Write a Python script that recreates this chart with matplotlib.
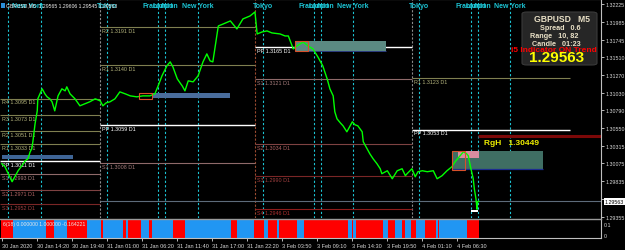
import matplotlib
matplotlib.use('Agg')
import matplotlib.pyplot as plt
import matplotlib.transforms as mtransforms
from matplotlib.patches import Rectangle, FancyBboxPatch
import numpy as np

plt.rcParams['font.family'] = ['Liberation Sans', 'DejaVu Sans']

W, H = 625, 251

# ---------------- data ----------------
price_bars = [0, 6, 12, 19, 24, 30, 37, 43, 48, 52, 55, 57, 61, 65, 66, 74, 79, 83, 88, 92, 97, 103, 110, 116, 119,
              125, 134, 143, 152, 161, 171, 180, 185, 191, 198, 207, 216, 226, 235, 247, 258, 271, 280, 286, 293,
              302, 308, 313, 321, 326, 330, 335, 341, 350, 359, 368, 375, 381, 386, 396, 405, 418, 430, 441, 454, 463,
              467, 476, 485, 494, 509, 518, 524, 533, 540, 551, 560, 569, 578, 587, 595, 600, 606, 609, 613, 619,
              624, 631, 641, 646, 651, 659, 661, 668, 673, 679, 686, 692, 695, 705, 714, 723, 732, 738, 741, 750,
              756, 761, 769, 778, 789, 796, 805, 814, 823, 829, 838, 844, 850, 853, 857, 862, 864, 867, 869, 870, 872]
price_vals = [1.30070, 1.30029, 1.29935, 1.29827, 1.29894, 1.29975, 1.30043, 1.30110, 1.30137, 1.30231, 1.30272,
              1.30366, 1.30609, 1.30784, 1.30946, 1.31081, 1.31013, 1.30973, 1.30946, 1.30906, 1.30784, 1.30986,
              1.31081, 1.31054, 1.31108, 1.31013, 1.30946, 1.30852, 1.30879, 1.30906, 1.30946, 1.30919, 1.30852,
              1.30892, 1.30906, 1.30946, 1.31040, 1.31013, 1.30986, 1.30973, 1.30986, 1.30986, 1.31013, 1.31121,
              1.31256, 1.31391, 1.31445, 1.31377, 1.31216, 1.31162, 1.31121, 1.31054, 1.31189, 1.31175, 1.31256,
              1.31445, 1.31553, 1.31458, 1.31445, 1.31930, 1.31957, 1.31998, 1.31890, 1.32025, 1.32065, 1.32119,
              1.31822, 1.31849, 1.31863, 1.31836, 1.31822, 1.31795, 1.31795, 1.31620, 1.31661, 1.31714, 1.31661,
              1.31620, 1.31512, 1.31391, 1.31216, 1.31081, 1.30986, 1.30771, 1.30676, 1.30622, 1.30582, 1.30501,
              1.30636, 1.30595, 1.30582, 1.30501, 1.30366, 1.30272, 1.30204, 1.30137, 1.30070, 1.30002, 1.29935,
              1.29975, 1.29867, 1.29975, 1.30002, 1.29908, 1.29935, 1.30002, 1.29894, 1.29962, 1.29975, 1.29962,
              1.29975, 1.29867, 1.29908, 1.29975, 1.30029, 1.30097, 1.30177, 1.30231, 1.30204, 1.30177, 1.30029,
              1.29867, 1.29733, 1.29598, 1.29455, 1.29557, 1.29563]

time_tick_bars = [0, 64, 128, 192, 256, 320, 384, 448, 512, 576, 640, 704, 768, 832]
time_tick_labels = ["30 Jan 2020", "30 Jan 14:20", "30 Jan 19:40", "31 Jan 01:00", "31 Jan 06:20",
                    "31 Jan 11:40", "31 Jan 17:00", "31 Jan 22:20", "3 Feb 03:50", "3 Feb 09:10",
                    "3 Feb 14:30", "3 Feb 19:50", "4 Feb 01:10", "4 Feb 06:30"]

price_tick_vals = [1.32225, 1.31985, 1.31745, 1.31510, 1.31270, 1.31030, 1.30790,
                   1.30550, 1.30315, 1.30075, 1.29835, 1.29595, 1.29355]
price_tick_labels = ["1.32225", "1.31985", "1.31745", "1.31510", "1.31270", "1.31030", "1.30790",
                     "1.30550", "1.30315", "1.30075", "1.29835", "1.29595", "1.29355"]

# daily pivot levels
day_start = [-3.1, 180, 463, 750]
day_end = [180, 463, 750, 1039]
pivot_day = [0, 0, 0, 0, 0, 0, 0, 0, 1, 1, 1, 1, 2, 2, 2, 2, 2, 3, 3]
pivot_name = ["R4", "R3", "R2", "R1", "PP", "S1", "S2", "S3",
              "R2", "R1", "PP", "S1",
              "PP", "S1", "S2", "S3", "S4",
              "R1", "PP"]
pivot_value = [1.3095, 1.3073, 1.3051, 1.3033, 1.3011, 1.2993, 1.2971, 1.2952,
               1.3191, 1.3140, 1.3059, 1.3008,
               1.3165, 1.3121, 1.3034, 1.2990, 1.2946,
               1.3123, 1.3053]

# sessions
session_bars = [12, 72, 193, 286, 299, 359, 478, 571, 584, 642, 763, 858, 871, 929]
session_label_bars = [48, 193, 286, 299, 359, 478, 571, 584, 642, 763, 858, 871, 929]
session_label_names = ["New York", "Tokyo", "Frankfurt", "London", "New York", "Tokyo", "Frankfurt",
                       "London", "New York", "Tokyo", "Frankfurt", "London", "New York"]
day_sep_bars = [180, 463, 750]

# zones (x0, x1, low, high)
zone_x0 = [0, 275, 536, 823, 834]
zone_x1 = [130, 418, 703, 990, 873]
zone_lo = [1.30137, 1.30960, 1.31593, 1.30002, 1.30150]
zone_hi = [1.30191, 1.31027, 1.31728, 1.30245, 1.30245]
zone_col = ['#3f6596', '#4a6d9c', '#5b8a82', '#3f6e63', '#d98ca0']
outline_x0 = [251, 536, 823]
outline_x1 = [275, 560, 847]
outline_lo = [1.30946, 1.31593, 1.29989]
outline_hi = [1.31027, 1.31728, 1.30245]

bid_price = 1.29563
rgh_price = 1.30449
rgh_start = 871

# trend indicator sub window (run edges in bars, state 1 = red, 0 = blue)
sig_edges = [0, 21, 81, 96, 119, 156, 182, 185, 222, 227, 231, 255, 269, 275, 313, 335, 419, 430, 461, 480,
             487, 503, 507, 540, 553, 633, 641, 642, 648, 697, 706, 719, 732, 738, 748, 758, 774, 794, 798,
             800, 851, 873]
sig_state = [1, 0, 1, 0, 1, 0, 1, 0, 1, 0, 1, 0, 1, 0, 1, 0, 1, 0, 1, 0, 1,
             0, 1, 0, 1, 0, 1, 0, 1, 0, 1, 0, 1, 0, 1, 0, 1, 0, 1, 0, 1]

# ---------------- figure ----------------
fig = plt.figure(figsize=(W / 100, H / 100), dpi=100, facecolor='black')

XL = (-3.1, 1095.6)
ax = fig.add_axes([0, 32 / H, 601 / W, 219 / H], facecolor='black')
ax2 = fig.add_axes([0, 12 / H, 601 / W, 19 / H], facecolor='black')
ax.set_xlim(*XL)
ax.set_ylim(1.29337, 1.32294)
ax2.set_xlim(*XL)

# vertical lines
for b in session_bars:
    ax.axvline(b, color='#1cc4d4', lw=0.8, ls=(0, (2, 2)), zorder=1)
sep_colors = ['#8a8a8a', '#9a4a30', '#8a8a8a']
for b, c in zip(day_sep_bars, sep_colors):
    ax.axvline(b, color=c, lw=0.8, ls=(0, (2, 1.5)), zorder=1)

# pivots
def pcol(name):
    if name.startswith('R'):
        return '#7f7f50', '#b4b47c'
    if name == 'PP':
        return '#ffffff', '#ffffff'
    return {'S1': ('#8f6a6a', '#a77c7c'), 'S2': ('#7e4242', '#b06262'),
            'S3': ('#7a2626', '#a04040'), 'S4': ('#8e1c1c', '#b03030')}[name]

for d, n, v in zip(pivot_day, pivot_name, pivot_value):
    lc, tc = pcol(n)
    ax.hlines(v, day_start[d], day_end[d], colors=lc, lw=1.0 if n == 'PP' else 0.8, zorder=2)
    xs = max(day_start[d], XL[0])
    ax.annotate(f"{n} {v:.4f} D1", (xs, v), xytext=(1.5, -0.6), textcoords='offset points',
                ha='left', va='top', fontsize=3.9, color=tc, zorder=3)

# bid line
ax.hlines(bid_price, 180, XL[1], colors='#5d6b7a', lw=0.8, zorder=2)

# zones
for x0, x1, lo, hi, c in zip(zone_x0, zone_x1, zone_lo, zone_hi, zone_col):
    ax.add_patch(Rectangle((x0, lo), x1 - x0, hi - lo, facecolor=c, edgecolor='none', zorder=2))
ax.hlines(zone_lo[3], zone_x0[3], zone_x1[3], colors='#1c2c90', lw=0.9, zorder=2)
ax.hlines(zone_lo[2], zone_x0[2], zone_x1[2], colors='#2c3c80', lw=0.7, zorder=2)
for x0, x1, lo, hi in zip(outline_x0, outline_x1, outline_lo, outline_hi):
    ax.add_patch(Rectangle((x0, lo), x1 - x0, hi - lo, facecolor='none', edgecolor='#d8502a', lw=0.8, zorder=4))

# RgH line
ax.hlines(rgh_price, rgh_start, XL[1], colors='#7c0808', lw=2.2, zorder=2)
ax.annotate("RgH   1.30449", (rgh_start, rgh_price), xytext=(4, -2.5), textcoords='offset points',
            ha='left', va='top', fontsize=6, fontweight='bold', color='#f0f000', zorder=5)

# price line
ax.plot(price_bars, price_vals, color='#00ff00', lw=1.0, zorder=3)

# low marker
ax.add_patch(Rectangle((858, 1.29422), 13, 0.00027, facecolor='white', edgecolor='none', zorder=4))

# session labels
trans_top = mtransforms.blended_transform_factory(ax.transData, ax.transAxes)
for b, n in zip(session_label_bars, session_label_names):
    ax.text(b, 1 - 6 / 219, n, transform=trans_top, ha='center', va='center', fontsize=5,
            fontweight='bold', color='#1cc4d4', zorder=6)

# axes styling main
for s in ['left', 'bottom']:
    ax.spines[s].set_visible(False)
ax.spines['top'].set_color('#bfbfbf')
ax.spines['top'].set_linewidth(0.8)
ax.spines['right'].set_color('#bfbfbf')
ax.spines['right'].set_linewidth(0.8)
ax.set_xticks([])
ax.yaxis.tick_right()
ax.set_yticks(price_tick_vals)
ax.set_yticklabels(price_tick_labels)
ax.tick_params(axis='y', colors='#d8d8d8', labelsize=3.8, length=2, width=0.6, pad=1)

# bid price label on axis
trans_r = mtransforms.blended_transform_factory(ax.transAxes, ax.transData)
ax.text(1.006, bid_price, "1.29563", transform=trans_r, ha='left', va='center', fontsize=3.8,
        color='black', bbox=dict(boxstyle='square,pad=0.15', facecolor='white', edgecolor='none'),
        zorder=10, clip_on=False)

# separator line between panes
fig.add_artist(plt.Line2D([0, 601 / W], [1 - 219.5 / H, 1 - 219.5 / H], color='#9a9a9a', lw=1.0))

# sub window
sig_bar = []
sig_col = []
for i, st in enumerate(sig_state):
    for b in range(sig_edges[i], sig_edges[i + 1]):
        sig_bar.append(b)
        sig_col.append('#ff0000' if st == 1 else '#2196f3')
ax2.set_ylim(-0.0261, 0.1392)
ax2.bar(sig_bar, [1.0] * len(sig_bar), bottom=-0.5, width=1.0, color=sig_col, linewidth=0, zorder=1)
ax2.text(3 / 601, 0.75, "6(18) 0.000000 1.000000 -0.164221", transform=ax2.transAxes,
         fontsize=3.7, color='#e8e8e8', ha='left', va='center', zorder=3)
ax2.spines['left'].set_visible(False)
ax2.spines['top'].set_visible(False)
ax2.spines['bottom'].set_color('#bfbfbf')
ax2.spines['right'].set_color('#bfbfbf')
ax2.spines['bottom'].set_linewidth(0.8)
ax2.spines['right'].set_linewidth(0.8)
ax2.yaxis.tick_right()
ax2.set_yticks([0.1, 0.0])
ax2.set_yticklabels(["0.1", "0"])
ax2.tick_params(axis='y', colors='#d8d8d8', labelsize=3.8, length=0, pad=2)
ax2.set_xticks(time_tick_bars)
ax2.set_xticklabels(time_tick_labels)
ax2.tick_params(axis='x', colors='#d8d8d8', labelsize=4.0, length=2, width=0.6, pad=1.5)
for lab in ax2.get_xticklabels():
    lab.set_horizontalalignment('left')

# header text
fig.add_artist(Rectangle((1 / W, 1 - 8.5 / H), 4 / W, 5 / H, transform=fig.transFigure,
                         facecolor='#2a8fd8', edgecolor='none'))
fig.text(6 / W, 1 - 6 / H, "GBPUSD,M5  1.29565 1.29606 1.29545 1.29563", fontsize=3.7,
         color='#f0f0f0', ha='left', va='center')

# info panel
fig.add_artist(FancyBboxPatch((522 / W, 1 - 66 / H), 75 / W, 53 / H, transform=fig.transFigure,
                              boxstyle='round,pad=0,rounding_size=0.008', facecolor='#262626',
                              edgecolor='#3a3a3a', lw=0.8))
info_c = '#e9e0c6'
fig.text(562 / W, 1 - 19 / H, "GBPUSD   M5", fontsize=6.2, fontweight='bold', color=info_c,
         ha='center', va='center')
fig.text(560 / W, 1 - 28 / H, "Spread   0.6", fontsize=5.2, fontweight='bold', color=info_c,
         ha='center', va='center')
fig.text(554 / W, 1 - 36 / H, "Range   10, 82", fontsize=5.2, fontweight='bold', color=info_c,
         ha='center', va='center')
fig.text(556 / W, 1 - 44 / H, "Candle   01:23", fontsize=5.2, fontweight='bold', color=info_c,
         ha='center', va='center')
fig.text(557 / W, 1 - 58 / H, "1.29563", fontsize=11, fontweight='bold', color='#ffff00',
         ha='center', va='center')
fig.text(554 / W, 1 - 51 / H, "i5 Indicator ON Trend", fontsize=6, fontweight='bold', color='#ff0000',
         ha='center', va='center')

fig.savefig('out.png', dpi=100, facecolor='black')
